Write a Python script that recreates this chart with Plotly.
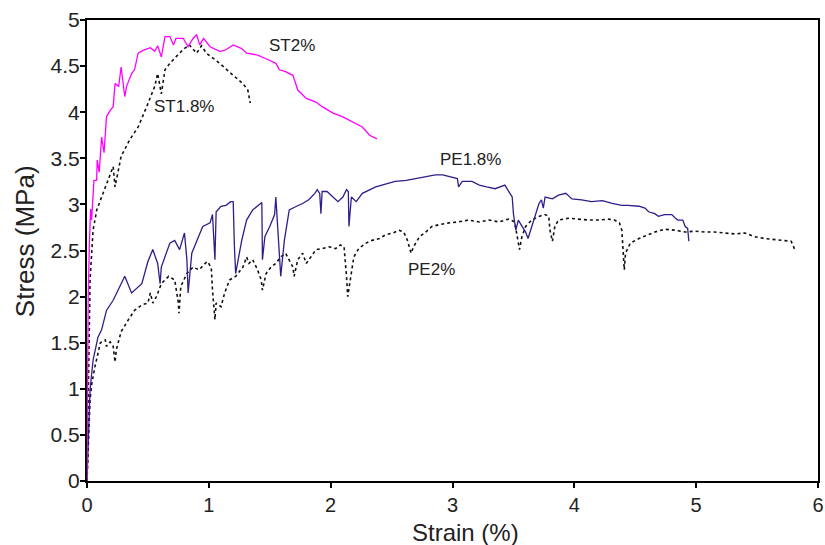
import plotly.graph_objects as go

# ---- ST2% (magenta solid) ----
st2_x = [0, 0.005, 0.01, 0.02, 0.03, 0.038, 0.057, 0.079, 0.084, 0.10, 0.12, 0.14, 0.16, 0.19, 0.215,
         0.23, 0.26, 0.28, 0.31, 0.325, 0.366, 0.39, 0.42, 0.46, 0.52, 0.556, 0.58, 0.61, 0.64,
         0.68, 0.71, 0.73, 0.79, 0.83, 0.87, 0.90, 0.925, 0.957, 1.01, 1.09, 1.13, 1.20, 1.27,
         1.31, 1.40, 1.47, 1.55, 1.58, 1.63, 1.69, 1.73, 1.80, 1.88, 1.93, 2.02, 2.10, 2.21,
         2.26, 2.32, 2.38]
st2_y = [0, 1.0, 2.0, 2.6, 2.95, 2.83, 3.26, 3.26, 3.48, 3.35, 3.73, 3.56, 3.95, 4.02, 4.06,
         4.31, 4.28, 4.49, 4.17, 4.28, 4.42, 4.46, 4.64, 4.67, 4.70, 4.66, 4.72, 4.60, 4.82,
         4.82, 4.73, 4.80, 4.80, 4.71, 4.80, 4.84, 4.73, 4.80, 4.71, 4.66, 4.67, 4.73, 4.69,
         4.64, 4.62, 4.58, 4.53, 4.46, 4.44, 4.40, 4.24, 4.15, 4.11, 4.06, 3.99, 3.95, 3.88,
         3.84, 3.75, 3.71]

# ---- ST1.8% (black dotted) ----
st18_x = [0, 0.008, 0.015, 0.025, 0.05, 0.08, 0.12, 0.19, 0.215, 0.23, 0.28, 0.35, 0.42, 0.49,
          0.556, 0.58, 0.61, 0.64, 0.68, 0.73, 0.79, 0.84, 0.90, 0.94, 0.98, 1.06, 1.09, 1.20,
          1.28, 1.32, 1.34]
st18_y = [0, 0.6, 1.3, 2.18, 2.72, 2.94, 3.08, 3.34, 3.41, 3.19, 3.52, 3.70, 3.84, 4.06,
          4.28, 4.42, 4.20, 4.46, 4.53, 4.60, 4.68, 4.73, 4.64, 4.72, 4.64, 4.56, 4.53, 4.40,
          4.31, 4.24, 4.10]

# ---- PE1.8% (navy solid) ----
pe18_x = [0, 0.01, 0.025, 0.05, 0.09, 0.12, 0.16, 0.215, 0.27, 0.31, 0.366, 0.45, 0.50, 0.54,
          0.58, 0.60, 0.61, 0.68, 0.72, 0.76, 0.80, 0.82, 0.83, 0.86, 0.90, 0.95, 1.01, 1.03,
          1.05, 1.06, 1.10, 1.14, 1.18, 1.20, 1.21, 1.22, 1.27, 1.31, 1.36, 1.42, 1.435, 1.44,
          1.46, 1.50, 1.54, 1.55, 1.57, 1.59, 1.62, 1.66, 1.72, 1.77, 1.82, 1.87, 1.89, 1.91,
          1.92, 1.93, 1.97, 2.02, 2.06, 2.10, 2.13, 2.145, 2.15, 2.17, 2.21, 2.26, 2.32, 2.37,
          2.42, 2.48, 2.53, 2.62, 2.70, 2.78, 2.86, 2.92, 2.97, 3.04, 3.05, 3.08, 3.16, 3.22,
          3.28, 3.35, 3.43, 3.46, 3.49, 3.50, 3.52, 3.54, 3.57, 3.60, 3.62, 3.65, 3.68, 3.71,
          3.73, 3.745, 3.76, 3.82, 3.87, 3.93, 3.98, 4.06, 4.14, 4.23, 4.31, 4.39, 4.44, 4.53,
          4.58, 4.61, 4.66, 4.69, 4.74, 4.80, 4.83, 4.85, 4.89, 4.91, 4.93, 4.94]
pe18_y = [0, 0.5, 0.99, 1.31, 1.56, 1.64, 1.85, 1.96, 2.11, 2.22, 2.04, 2.14, 2.38, 2.51,
          2.36, 2.14, 2.32, 2.58, 2.61, 2.51, 2.69, 2.40, 2.04, 2.47, 2.60, 2.76, 2.80, 2.89,
          2.40, 2.92, 2.98, 2.99, 3.03, 3.03, 2.54, 2.25, 2.61, 2.83, 2.94, 3.01, 3.02, 2.40,
          2.65, 2.76, 2.89, 3.08, 2.61, 2.22, 2.61, 2.94, 2.98, 3.01, 3.05, 3.12, 3.16, 3.12,
          2.90, 3.14, 3.14, 3.08, 3.03, 3.08, 3.16, 3.14, 2.76, 3.08, 3.03, 3.12, 3.16, 3.19,
          3.21, 3.23, 3.25, 3.26, 3.28, 3.30, 3.32, 3.32, 3.30, 3.28, 3.19, 3.25, 3.25, 3.21,
          3.19, 3.17, 3.21, 3.14, 3.08, 2.90, 2.72, 2.83, 2.76, 2.70, 2.63, 2.76, 2.90, 3.01,
          3.05, 2.96, 3.08, 3.06, 3.10, 3.12, 3.06, 3.05, 3.03, 3.04, 3.01, 2.99, 2.99, 2.98,
          2.96, 2.92, 2.90, 2.87, 2.89, 2.89, 2.85, 2.83, 2.83, 2.76, 2.74, 2.60]

# ---- PE2% (black dotted) ----
pe2_x = [0, 0.012, 0.025, 0.04, 0.065, 0.11, 0.15, 0.16, 0.19, 0.215, 0.23, 0.24, 0.28, 0.34,
         0.39, 0.45, 0.50, 0.52, 0.54, 0.57, 0.61, 0.67, 0.72, 0.75, 0.755, 0.77, 0.82, 0.87,
         0.92, 0.97, 0.99, 1.02, 1.03, 1.05, 1.06, 1.10, 1.13, 1.17, 1.22, 1.28, 1.31, 1.33,
         1.36, 1.40, 1.43, 1.44, 1.47, 1.51, 1.55, 1.59, 1.63, 1.69, 1.70, 1.73, 1.77, 1.80,
         1.84, 1.88, 1.93, 1.99, 2.04, 2.08, 2.11, 2.12, 2.13, 2.14, 2.17, 2.19, 2.23, 2.29,
         2.34, 2.40, 2.45, 2.51, 2.56, 2.60, 2.63, 2.66, 2.68, 2.73, 2.78, 2.83, 2.89, 2.97,
         3.05, 3.13, 3.22, 3.30, 3.38, 3.46, 3.51, 3.53, 3.55, 3.57, 3.60, 3.65, 3.71, 3.76,
         3.79, 3.80, 3.82, 3.84, 3.87, 3.95, 4.03, 4.12, 4.20, 4.28, 4.33, 4.37, 4.39, 4.40,
         4.41, 4.42, 4.46, 4.53, 4.59, 4.66, 4.74, 4.83, 4.91, 4.99, 5.07, 5.15, 5.23, 5.32,
         5.40, 5.48, 5.56, 5.64, 5.72, 5.78, 5.81]
pe2_y = [0, 0.45, 0.88, 1.06, 1.24, 1.50, 1.53, 1.46, 1.51, 1.46, 1.29, 1.42, 1.62, 1.75,
         1.85, 1.91, 1.93, 2.04, 1.93, 2.00, 2.14, 2.22, 2.18, 1.93, 1.82, 2.11, 2.25, 2.32,
         2.29, 2.36, 2.38, 2.31, 2.07, 1.75, 1.93, 1.89, 2.04, 2.18, 2.22, 2.32, 2.43, 2.36,
         2.40, 2.29, 2.18, 2.07, 2.25, 2.32, 2.36, 2.43, 2.47, 2.32, 2.22, 2.40, 2.47, 2.36,
         2.43, 2.51, 2.52, 2.54, 2.52, 2.56, 2.54, 2.40, 2.22, 2.00, 2.25, 2.43, 2.52, 2.58,
         2.61, 2.63, 2.67, 2.69, 2.72, 2.70, 2.61, 2.47, 2.54, 2.65, 2.70, 2.76, 2.78, 2.80,
         2.81, 2.83, 2.81, 2.83, 2.81, 2.84, 2.81, 2.65, 2.51, 2.65, 2.76, 2.83, 2.87, 2.89,
         2.87, 2.72, 2.60, 2.76, 2.83, 2.85, 2.84, 2.83, 2.83, 2.84, 2.83, 2.80, 2.72, 2.54,
         2.29, 2.47, 2.58, 2.63, 2.66, 2.70, 2.73, 2.72, 2.70, 2.71, 2.70, 2.70, 2.69, 2.68,
         2.69, 2.65, 2.63, 2.62, 2.61, 2.60, 2.51]

# ---- annotation labels ----
label_text = ["ST2%", "ST1.8%", "PE1.8%", "PE2%"]
label_x = [1.68, 0.80, 3.15, 2.83]
label_y = [4.72, 4.06, 3.49, 2.29]

x_ticks = [0, 1, 2, 3, 4, 5, 6]
y_ticks = [0, 0.5, 1, 1.5, 2, 2.5, 3, 3.5, 4, 4.5, 5]

x_title = "Strain (%)"
y_title = "Stress (MPa)"

FONT = "Liberation Sans, Arial, sans-serif"

fig = go.Figure()
fig.add_trace(go.Scatter(x=pe2_x, y=pe2_y, mode="lines", name="PE2%",
                         line=dict(color="#111111", width=1.6, dash="dot")))
fig.add_trace(go.Scatter(x=pe18_x, y=pe18_y, mode="lines", name="PE1.8%",
                         line=dict(color="#2E1E8A", width=1.3)))
fig.add_trace(go.Scatter(x=st18_x, y=st18_y, mode="lines", name="ST1.8%",
                         line=dict(color="#111111", width=1.6, dash="dot")))
fig.add_trace(go.Scatter(x=st2_x, y=st2_y, mode="lines", name="ST2%",
                         line=dict(color="#FF00FF", width=1.3)))

for t, x, y in zip(label_text, label_x, label_y):
    fig.add_annotation(x=x, y=y, text=t, showarrow=False, xanchor="center", yanchor="middle",
                       font=dict(family=FONT, size=17, color="#222222"))

# axis titles as annotations (placed as in the reference)
fig.add_annotation(xref="paper", yref="paper", x=0.518, y=-0.112, text=x_title, showarrow=False,
                   xanchor="center", yanchor="middle",
                   font=dict(family=FONT, size=24, color="#222222"))
fig.add_annotation(xref="paper", yref="paper", x=-0.085, y=0.52, text=y_title, showarrow=False,
                   xanchor="center", yanchor="middle", textangle=-90,
                   font=dict(family=FONT, size=26, color="#222222"))

fig.update_layout(
    width=825, height=545,
    margin=dict(l=87, r=7, t=20, b=64),
    paper_bgcolor="white", plot_bgcolor="white",
    showlegend=False,
    font=dict(family=FONT, color="#222222"),
)
fig.update_xaxes(range=[0, 6], tickvals=x_ticks, ticktext=[str(v) for v in x_ticks],
                 showgrid=False, zeroline=False, showline=True, mirror=True, automargin=False,
                 linecolor="black", linewidth=2, ticks="outside", ticklen=5, tickwidth=2,
                 tickcolor="black", tickfont=dict(size=20))
fig.update_yaxes(range=[0, 5], tickvals=y_ticks, ticktext=[("%g" % v) for v in y_ticks],
                 showgrid=False, zeroline=False, showline=True, mirror=True, automargin=False,
                 linecolor="black", linewidth=2, ticks="outside", ticklen=5, tickwidth=2,
                 tickcolor="black", tickfont=dict(size=21), ticklabelstandoff=-4)

fig.write_html("out.html", config={"displayModeBar": False},
               post_script="document.body.style.margin='0px';document.body.style.overflow='hidden';")
